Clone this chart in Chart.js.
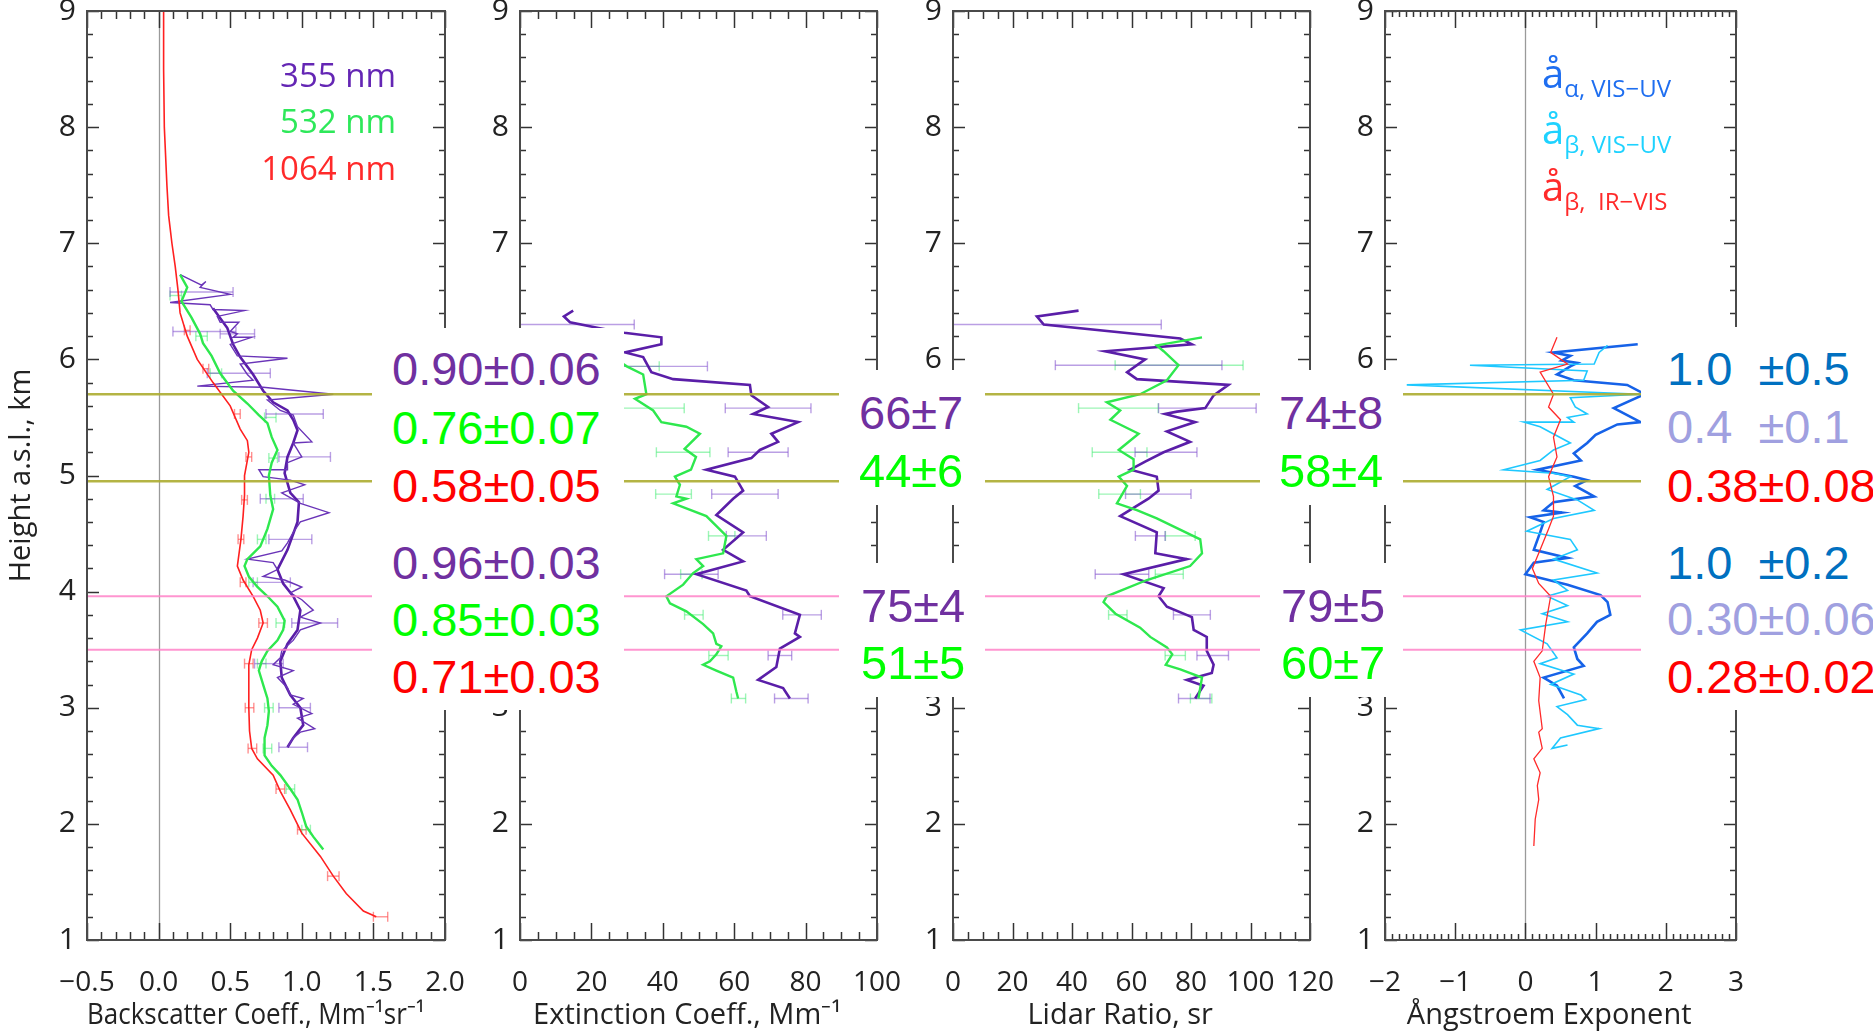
<!DOCTYPE html>
<html>
<head>
<meta charset="utf-8">
<script src="https://cdn.jsdelivr.net/npm/chart.js@4.4.1/dist/chart.umd.min.js"></script>
<style>
  body { margin: 0; background: #fff; width: 1873px; height: 1033px; overflow: hidden; position: relative; font-family: 'Open Sans', sans-serif; }
  canvas { position: absolute; top: 0; }
  .box { position: absolute; background: #fff; }
  .val { position: absolute; font-family: 'Liberation Sans', Arial, sans-serif; font-size: 47px; line-height: 46px; white-space: pre; }
  .leg { position: absolute; font-size: 33px; line-height: 33px; white-space: pre; }
  .ae { position: absolute; font-size: 40px; line-height: 40px; white-space: pre; }
  .ae span { font-size: 24px; position: relative; top: 9px; }
</style>
</head>
<body>
<canvas id="c1" width="470" height="1033" style="left:0px"></canvas>
<canvas id="c2" width="440" height="1033" style="left:460px"></canvas>
<canvas id="c3" width="450" height="1033" style="left:890px"></canvas>
<canvas id="c4" width="430" height="1033" style="left:1330px"></canvas>

<!-- legends -->
<div class="leg" style="right:1477px;top:58px;color:#6426b4">355 nm</div>
<div class="leg" style="right:1477px;top:104px;color:#2ee85a">532 nm</div>
<div class="leg" style="right:1477px;top:151px;color:#ff2a2a">1064 nm</div>
<div class="ae" style="left:1542px;top:53px;color:#1e6ef0">å<span>α, VIS−UV</span></div>
<div class="ae" style="left:1542px;top:109px;color:#1ed2ff">å<span>β, VIS−UV</span></div>
<div class="ae" style="left:1542px;top:166px;color:#ff2a2a">å<span>β,  IR−VIS</span></div>

<!-- layer mean values -->
<div class="box" style="left:372px;top:328px;width:252px;height:382px"></div>
<div class="box" style="left:839px;top:370px;width:146px;height:135px"></div>
<div class="box" style="left:839px;top:563px;width:146px;height:134px"></div>
<div class="box" style="left:1260px;top:370px;width:143px;height:135px"></div>
<div class="box" style="left:1260px;top:563px;width:143px;height:134px"></div>
<div class="box" style="left:1641px;top:327px;width:232px;height:383px"></div>

<div class="val" style="left:392px;top:346px;color:#7030a0">0.90±0.06</div>
<div class="val" style="left:392px;top:405px;color:#00ff00">0.76±0.07</div>
<div class="val" style="left:392px;top:463px;color:#ff0000">0.58±0.05</div>
<div class="val" style="left:392px;top:540px;color:#7030a0">0.96±0.03</div>
<div class="val" style="left:392px;top:597px;color:#00ff00">0.85±0.03</div>
<div class="val" style="left:392px;top:654px;color:#ff0000">0.71±0.03</div>

<div class="val" style="left:859px;top:390px;color:#7030a0">66±7</div>
<div class="val" style="left:859px;top:448px;color:#00ff00">44±6</div>
<div class="val" style="left:861px;top:583px;color:#7030a0">75±4</div>
<div class="val" style="left:861px;top:640px;color:#00ff00">51±5</div>

<div class="val" style="left:1279px;top:390px;color:#7030a0">74±8</div>
<div class="val" style="left:1279px;top:448px;color:#00ff00">58±4</div>
<div class="val" style="left:1281px;top:583px;color:#7030a0">79±5</div>
<div class="val" style="left:1281px;top:640px;color:#00ff00">60±7</div>

<div class="val" style="left:1667px;top:346px;color:#0070c0">1.0  ±0.5</div>
<div class="val" style="left:1667px;top:404px;color:#a0a0e0">0.4  ±0.1</div>
<div class="val" style="left:1667px;top:463px;color:#ff0000">0.38±0.08</div>
<div class="val" style="left:1667px;top:540px;color:#0070c0">1.0  ±0.2</div>
<div class="val" style="left:1667px;top:596px;color:#a0a0e0">0.30±0.06</div>
<div class="val" style="left:1667px;top:654px;color:#ff0000">0.28±0.02</div>

<script>
Chart.defaults.font.family = "'Open Sans', sans-serif";
Chart.defaults.color = '#222';

// ---- profiles: [value, height km] ----
const bsc1064 = [[0.035,9.0],[0.035,8.5],[0.04,8.0],[0.058,7.5],[0.07,7.24],[0.093,7.0],[0.116,6.8],[0.135,6.6],[0.15,6.4],[0.2,6.2],[0.27,6.0],[0.38,5.8],[0.5,5.6],[0.57,5.4],[0.62,5.3],[0.63,5.2],[0.6,5.0],[0.6,4.83],[0.59,4.65],[0.575,4.45],[0.55,4.22],[0.59,4.1],[0.66,3.96],[0.71,3.84],[0.73,3.73],[0.69,3.6],[0.65,3.5],[0.63,3.37],[0.63,3.0],[0.635,2.8],[0.65,2.65],[0.69,2.56],[0.8,2.42],[0.85,2.28],[0.92,2.12],[1.0,1.92],[1.13,1.72],[1.22,1.55],[1.31,1.4],[1.43,1.25],[1.52,1.2]];
const bsc532 = [[0.15,6.73],[0.2,6.62],[0.16,6.5],[0.23,6.36],[0.29,6.22],[0.31,6.14],[0.37,6.03],[0.43,5.88],[0.52,5.73],[0.62,5.62],[0.7,5.52],[0.76,5.45],[0.79,5.33],[0.83,5.22],[0.79,5.11],[0.77,5.0],[0.78,4.83],[0.8,4.71],[0.76,4.54],[0.71,4.39],[0.62,4.28],[0.6,4.22],[0.63,4.13],[0.69,4.04],[0.76,3.96],[0.83,3.87],[0.88,3.75],[0.87,3.67],[0.83,3.58],[0.76,3.49],[0.72,3.4],[0.7,3.32],[0.73,3.2],[0.76,3.08],[0.77,2.97],[0.76,2.85],[0.74,2.74],[0.74,2.59],[0.79,2.5],[0.85,2.42],[0.92,2.3],[0.97,2.21],[1.0,2.1],[1.03,1.98],[1.08,1.89],[1.15,1.78]];
const bsc355 = [[0.15,6.73],[0.3,6.64],[0.33,6.67],[0.29,6.62],[0.5,6.56],[0.08,6.49],[0.36,6.47],[0.38,6.43],[0.6,6.42],[0.41,6.37],[0.43,6.32],[0.56,6.32],[0.5,6.24],[0.55,6.22],[0.52,6.19],[0.65,6.19],[0.5,6.13],[0.55,6.03],[0.9,6.01],[0.57,5.96],[0.62,5.87],[0.66,5.82],[0.27,5.77],[0.73,5.76],[1.22,5.7],[0.76,5.65],[0.85,5.56],[0.94,5.52],[0.97,5.42],[1.07,5.29],[0.94,5.28],[1.0,5.16],[0.9,5.11],[0.9,5.05],[0.7,5.05],[0.73,4.99],[0.92,4.96],[1.02,4.92],[0.86,4.85],[0.99,4.76],[1.19,4.68],[0.99,4.6],[0.94,4.51],[0.9,4.42],[0.86,4.35],[0.62,4.28],[0.8,4.25],[0.83,4.19],[0.73,4.13],[0.88,4.1],[0.94,4.07],[1.0,4.04],[0.92,3.99],[1.0,3.93],[1.08,3.84],[0.99,3.78],[1.13,3.73],[0.99,3.67],[0.94,3.58],[0.86,3.49],[0.85,3.43],[0.8,3.37],[0.94,3.32],[0.83,3.26],[0.9,3.17],[0.92,3.11],[1.01,3.08],[0.94,3.03],[1.07,2.95],[0.97,2.91],[1.09,2.82],[0.99,2.79],[0.94,2.74],[0.9,2.66]];
const bsc355Smooth = [[0.38,6.44],[0.48,6.27],[0.52,6.13],[0.57,6.02],[0.66,5.87],[0.73,5.73],[0.8,5.63],[0.9,5.56],[0.94,5.48],[0.97,5.39],[0.94,5.28],[0.9,5.16],[0.88,5.02],[0.92,4.85],[0.98,4.77],[0.97,4.6],[0.9,4.36],[0.83,4.19],[0.87,4.07],[0.94,3.96],[0.99,3.84],[0.97,3.67],[0.9,3.55],[0.85,3.4],[0.86,3.26],[0.92,3.11],[0.99,3.0],[1.01,2.85],[0.94,2.74],[0.9,2.66]];

const ext355 = [[14.9,6.42],[12.3,6.37],[14.0,6.32],[22,6.27],[29.2,6.23],[39.6,6.19],[39.6,6.13],[29.4,6.06],[34.5,6.02],[36.8,5.89],[42.9,5.83],[64.4,5.78],[64.8,5.69],[69.5,5.59],[65.3,5.53],[77.9,5.46],[70.4,5.36],[72.3,5.29],[67.2,5.22],[64.8,5.15],[52.2,5.05],[60.2,4.99],[62.5,4.87],[59.7,4.8],[55.0,4.66],[62.5,4.51],[56.9,4.36],[62.5,4.26],[49.4,4.15],[63.4,4.01],[64.4,3.96],[78.4,3.8],[77.0,3.64],[78.4,3.61],[72.8,3.51],[71.8,3.35],[66.7,3.24],[73.7,3.17],[75.6,3.08]];
const ext532 = [[27,6.0],[29.9,5.94],[34.5,5.87],[35.4,5.7],[32.2,5.66],[37.3,5.56],[39.6,5.46],[46.6,5.42],[50.4,5.36],[46.1,5.23],[49.3,5.16],[47.9,5.05],[43.4,4.99],[44.8,4.92],[43.8,4.82],[46.6,4.8],[42.9,4.76],[52.2,4.65],[57.8,4.48],[56.9,4.33],[49.4,4.28],[51.3,4.22],[48.5,4.16],[45.7,4.06],[41.0,3.96],[42.0,3.9],[46.6,3.83],[51.3,3.72],[54.1,3.64],[55.0,3.55],[56.4,3.53],[55.0,3.46],[53.2,3.4],[51.3,3.37],[55.0,3.32],[59.7,3.26],[60.6,3.14],[61.1,3.08]];

const lr355 = [[42.2,6.42],[28.2,6.37],[30.5,6.3],[76.4,6.18],[80.3,6.13],[51.2,6.07],[64.6,6.0],[58.5,5.89],[61.8,5.83],[92.6,5.78],[87.6,5.69],[84.8,5.58],[75.3,5.55],[71.3,5.53],[81.4,5.46],[71.9,5.38],[79.7,5.29],[70.8,5.2],[64.6,5.12],[59.6,5.05],[68.5,4.99],[69.1,4.87],[65.7,4.8],[56.2,4.65],[68.5,4.51],[68.0,4.33],[78.6,4.28],[57.3,4.15],[70.8,4.03],[69.1,3.96],[71.9,3.87],[80.3,3.78],[80.9,3.67],[85.3,3.61],[85.3,3.49],[87.6,3.37],[87.0,3.3],[78.6,3.24],[84.2,3.19],[81.4,3.08]];
const lr532 = [[83.7,6.19],[68.5,6.12],[70.8,6.07],[75.8,5.95],[71.9,5.82],[62.9,5.7],[51.7,5.63],[56.2,5.56],[52.9,5.48],[62.4,5.36],[55.7,5.22],[60.7,5.14],[60.7,5.05],[55.7,4.99],[58.5,4.91],[55.1,4.76],[62,4.7],[68.5,4.63],[83.1,4.45],[83.7,4.33],[79.7,4.22],[65.2,4.1],[51.7,3.96],[50.6,3.91],[54.6,3.81],[62.9,3.69],[66.3,3.61],[71.9,3.52],[73.7,3.46],[71.5,3.37],[76.4,3.33],[83.7,3.26],[82.5,3.08]];

const aeExtVisUv = [[1.6,6.13],[0.4,6.06],[0.64,6.03],[0.52,5.99],[0.74,5.97],[0.64,5.94],[0.45,5.87],[0.69,5.82],[1.45,5.78],[1.7,5.7],[1.26,5.58],[1.64,5.46],[1.31,5.44],[1.0,5.35],[0.88,5.28],[0.69,5.19],[0.79,5.13],[0.17,5.05],[0.69,4.99],[0.88,4.96],[0.71,4.91],[0.98,4.82],[0.4,4.77],[0.26,4.7],[0.52,4.68],[0.07,4.64],[0.26,4.6],[0.21,4.51],[0.12,4.36],[0.6,4.29],[0.12,4.25],[0.0,4.15],[0.6,4.06],[1.07,3.97],[1.17,3.91],[1.21,3.8],[1.02,3.74],[0.88,3.64],[0.69,3.52],[0.74,3.42],[0.83,3.36],[0.26,3.26],[0.45,3.19],[0.55,3.08]];
const aeBscVisUv = [[1.17,6.12],[1.05,6.06],[0.98,5.96],[-0.79,5.95],[0.88,5.9],[0.83,5.82],[-1.69,5.78],[1.64,5.7],[0.64,5.67],[0.71,5.59],[0.88,5.53],[0.6,5.5],[0.69,5.46],[-0.02,5.46],[0.21,5.42],[0.64,5.28],[0.4,5.22],[0.21,5.13],[-0.31,5.05],[0.4,5.02],[0.64,4.99],[0.31,4.88],[0.74,4.79],[0.98,4.7],[0.4,4.63],[0.02,4.52],[0.64,4.45],[0.74,4.36],[0.4,4.28],[1.02,4.16],[0.4,4.1],[0.6,4.01],[0.31,3.96],[0.6,3.88],[0.24,3.81],[0.6,3.74],[-0.07,3.67],[0.31,3.55],[0.45,3.43],[0.21,3.38],[0.69,3.29],[0.36,3.2],[0.79,3.11],[0.86,3.07],[0.45,3.01],[0.6,2.94],[0.74,2.85],[1.05,2.82],[0.5,2.74],[0.38,2.65],[0.6,2.68]];
const aeBscIrVis = [[0.45,6.19],[0.36,6.06],[0.6,5.96],[0.21,5.89],[0.4,5.7],[0.33,5.59],[0.5,5.48],[0.4,5.33],[0.45,5.16],[0.33,4.99],[0.4,4.82],[0.4,4.65],[0.33,4.54],[0.21,4.36],[0.1,4.2],[0.19,4.07],[0.36,3.96],[0.29,3.72],[0.24,3.49],[0.12,3.4],[0.21,3.26],[0.19,3.06],[0.24,2.82],[0.19,2.79],[0.24,2.65],[0.12,2.56],[0.21,2.44],[0.17,2.33],[0.19,2.21],[0.14,2.04],[0.12,1.81]];

// ---- error bars: [height km, centre, half width] ----
const bsc1064Err = [[6.25,0.2,0.02],[5.92,0.33,0.02],[5.53,0.55,0.02],[5.16,0.63,0.02],[4.79,0.6,0.02],[4.45,0.575,0.02],[4.08,0.59,0.02],[3.73,0.73,0.03],[3.38,0.63,0.03],[3.0,0.635,0.03],[2.65,0.655,0.03],[2.3,0.85,0.03],[1.95,1.0,0.03],[1.55,1.22,0.04],[1.2,1.55,0.05]];
const bsc532Err = [[6.55,0.12,0.04],[6.2,0.3,0.04],[5.88,0.4,0.04],[5.5,0.78,0.04],[5.15,0.8,0.03],[4.8,0.78,0.03],[4.45,0.72,0.03],[4.08,0.66,0.03],[3.73,0.85,0.03],[3.38,0.72,0.03],[3.0,0.77,0.03],[2.65,0.76,0.03],[2.3,0.92,0.03],[1.95,1.03,0.03]];
const bsc355Err = [[6.58,0.3,0.22],[6.24,0.32,0.22],[6.22,0.55,0.12],[5.88,0.56,0.22],[5.53,0.95,0.2],[5.16,1.02,0.18],[4.8,0.86,0.15],[4.45,0.92,0.15],[4.08,0.79,0.13],[3.73,1.09,0.16],[3.38,0.77,0.1],[3.0,0.95,0.11],[2.66,0.94,0.1]];
const ext355Err = [[6.3,16,16],[5.94,40.5,12],[5.58,69.5,12],[5.2,66.7,8.4],[4.84,63,9.3],[4.48,63.4,5.6],[4.15,48,7.5],[3.8,79,5.4],[3.45,72.8,3.3],[3.08,76,4.7]];
const ext532Err = [[5.94,33,6],[5.58,36,10],[5.2,45.7,7.5],[4.84,43,5],[4.48,56.5,3.7],[4.15,48,3],[3.8,48.7,2.6],[3.45,55.6,2.7],[3.08,61.2,2]];
const lr355Err = [[6.3,28,42],[5.95,62.4,28],[5.58,85.5,16.4],[5.2,71.6,10.4],[4.84,69,11],[4.48,66.3,5],[4.15,56.8,9],[3.8,80.3,6.2],[3.45,87.3,5.3],[3.08,81.1,5.3]];
const lr532Err = [[5.95,76,21.5],[5.58,55.6,13.4],[5.2,56,9.2],[4.84,56,7],[4.48,76.4,5],[4.15,72.7,4.7],[3.8,55.4,3.1],[3.45,74.7,3.4],[3.08,83.4,3.6]];

// layer boundaries, km
const upperLayer = [5.7, 4.95];
const lowerLayer = [3.96, 3.5];

const C355 = '#5a1ea8', C532 = '#2ee84e', C1064 = '#ff2020';
const E355 = 'rgba(130,80,205,0.55)', E532 = 'rgba(60,235,110,0.5)', E1064 = 'rgba(255,70,70,0.6)';

function line(ctx, x0, y0, x1, y1) { ctx.beginPath(); ctx.moveTo(x0, y0); ctx.lineTo(x1, y1); ctx.stroke(); }

// frame with inward ticks, zero line, error bars and layer boundaries
function makeDeco(p) {
  return {
    id: 'deco',
    beforeDatasetsDraw(chart) {
      const { ctx, chartArea: a, scales: { x, y } } = chart;
      ctx.save();
      ctx.beginPath(); ctx.rect(a.left, a.top, a.width, a.height); ctx.clip();
      if (p.zero) {
        const px = Math.round(x.getPixelForValue(0)) + 0.5;
        ctx.strokeStyle = '#9a9a9a'; ctx.lineWidth = 1.3;
        line(ctx, px, a.top, px, a.bottom);
      }
      ctx.lineWidth = 1.4;
      (p.errors || []).forEach(set => {
        ctx.strokeStyle = set.color;
        set.data.forEach(([h, c, e]) => {
          const py = y.getPixelForValue(h), x0 = x.getPixelForValue(c - e), x1 = x.getPixelForValue(c + e);
          line(ctx, x0, py, x1, py);
          line(ctx, x0, py - 5, x0, py + 5);
          line(ctx, x1, py - 5, x1, py + 5);
        });
      });
      ctx.restore();
    },
    afterDatasetsDraw(chart) {
      const { ctx, chartArea: a, scales: { x, y } } = chart;
      ctx.save();
      const x0 = p.linesFrom === 'area' ? a.left : 0;
      ctx.lineWidth = 2.4;
      ctx.strokeStyle = 'rgba(172,172,48,0.9)';
      upperLayer.forEach(h => { const py = y.getPixelForValue(h); line(ctx, x0, py, chart.width, py); });
      ctx.lineWidth = 2;
      ctx.strokeStyle = 'rgba(255,130,200,0.85)';
      lowerLayer.forEach(h => { const py = y.getPixelForValue(h); line(ctx, x0, py, chart.width, py); });

      ctx.strokeStyle = '#333'; ctx.lineWidth = 1.5;
      const n = Math.round((p.xmax - p.xmin) / p.xminor);
      for (let i = 0; i <= n; i++) {
        const v = p.xmin + i * p.xminor;
        const major = Math.abs(v / p.xmajor - Math.round(v / p.xmajor)) < 1e-6;
        const len = major ? 17 : p.xminorLen;
        const px = Math.round(x.getPixelForValue(v)) + 0.5;
        line(ctx, px, a.bottom, px, a.bottom - len);
        line(ctx, px, a.top, px, a.top + len);
      }
      for (let i = 0; i <= 40; i++) {
        const v = 1 + i * 0.2;
        const major = Math.abs(v - Math.round(v)) < 1e-6;
        const len = major ? 12 : 6;
        const py = Math.round(y.getPixelForValue(v)) + 0.5;
        line(ctx, a.left, py, a.left + len, py);
        line(ctx, a.right, py, a.right - len, py);
      }
      ctx.strokeStyle = '#4a4a4a'; ctx.lineWidth = 2;
      ctx.strokeRect(a.left, a.top, a.width, a.height);
      ctx.restore();
    }
  };
}

function profile(pts, color, width) {
  return { data: pts.map(([v, h]) => ({ x: v, y: h })), showLine: true, borderColor: color, borderWidth: width, pointRadius: 0, tension: 0, fill: false };
}

const minus = s => String(s).replace('-', '−');
// the axis titles sit slightly left of the panel centre
const nudge = '\u00a0\u00a0\u00a0';

function panel(id, cfg) {
  new Chart(document.getElementById(id), {
    type: 'scatter',
    data: { datasets: cfg.datasets },
    plugins: [makeDeco(cfg.deco)],
    options: {
      responsive: false,
      animation: false,
      layout: { padding: { left: 0, right: cfg.padRight, top: 11, bottom: 0 } },
      plugins: { legend: { display: false }, tooltip: { enabled: false } },
      scales: {
        x: {
          type: 'linear', min: cfg.deco.xmin, max: cfg.deco.xmax,
          afterFit: s => { s.height = 93; s.paddingLeft = 0; s.paddingRight = 0; },
          grid: { display: false, drawTicks: false }, border: { display: false },
          ticks: { stepSize: cfg.deco.xmajor, padding: 26, autoSkip: false, maxRotation: 0, color: '#222', font: { size: 28 }, callback: cfg.tickFmt },
          title: { display: true, text: cfg.xTitle + nudge, color: '#222', font: { size: 29 }, padding: { top: 0, bottom: 0 } }
        },
        y: {
          type: 'linear', min: 1, max: 9,
          afterFit: s => { s.width = cfg.yWidth; s.paddingTop = 0; s.paddingBottom = 0; },
          grid: { display: false, drawTicks: false }, border: { display: false },
          ticks: { stepSize: 1, padding: 11, color: '#222', font: { size: 30 } },
          title: { display: !!cfg.yTitle, text: cfg.yTitle || '', color: '#222', font: { size: 29 }, padding: { top: 4, bottom: 0 } }
        }
      }
    }
  });
}

panel('c1', {
  padRight: 25, yWidth: 87,
  xTitle: 'Backscatter Coeff., Mm⁻¹sr⁻¹', yTitle: 'Height a.s.l., km',
  tickFmt: v => minus(v.toFixed(1)),
  datasets: [
    profile(bsc1064, C1064, 1.6),
    profile(bsc532, C532, 2.4),
    profile(bsc355, '#6a34b8', 1.4),
    profile(bsc355Smooth, C355, 2.6)
  ],
  deco: { xmin: -0.5, xmax: 2.0, xmajor: 0.5, xminor: 0.1, xminorLen: 8, zero: true, linesFrom: 'area',
    errors: [{ color: E1064, data: bsc1064Err }, { color: E532, data: bsc532Err }, { color: E355, data: bsc355Err }] }
});

panel('c2', {
  padRight: 23, yWidth: 60,
  xTitle: 'Extinction Coeff., Mm⁻¹',
  tickFmt: v => String(v),
  datasets: [profile(ext532, C532, 2.4), profile(ext355, C355, 2.6)],
  deco: { xmin: 0, xmax: 100, xmajor: 20, xminor: 5, xminorLen: 8,
    errors: [{ color: E532, data: ext532Err }, { color: E355, data: ext355Err }] }
});

panel('c3', {
  padRight: 30, yWidth: 63,
  xTitle: 'Lidar Ratio, sr',
  tickFmt: v => String(v),
  datasets: [profile(lr532, C532, 2.4), profile(lr355, C355, 2.6)],
  deco: { xmin: 0, xmax: 120, xmajor: 20, xminor: 5, xminorLen: 8,
    errors: [{ color: E532, data: lr532Err }, { color: E355, data: lr355Err }] }
});

panel('c4', {
  padRight: 24, yWidth: 55,
  xTitle: 'Ångstroem Exponent',
  tickFmt: v => minus(v),
  datasets: [
    profile(aeBscIrVis, '#ff2a2a', 1.3),
    profile(aeBscVisUv, '#1ec8ff', 1.6),
    profile(aeExtVisUv, '#1662e8', 2.6)
  ],
  deco: { xmin: -2, xmax: 3, xmajor: 1, xminor: 0.1, xminorLen: 6, zero: true, errors: [] }
});
</script>
</body>
</html>
